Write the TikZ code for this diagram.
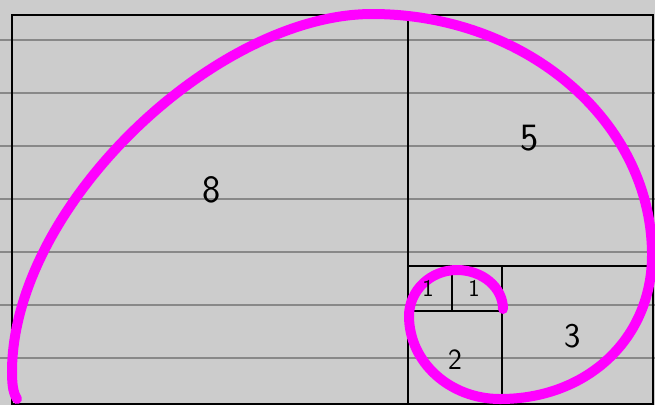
\documentclass[tikz,border=0pt]{standalone}
\usepackage{tikz}
\begin{document}
\begin{tikzpicture}[x=0.75pt,y=0.75pt,yscale=-1,xscale=1,
  ruled/.style={color={rgb, 255:red, 136; green, 136; blue, 136}, line width=1.5pt},
  frame/.style={color=black, line width=2.2pt},
  inner/.style={color=black, line width=1.8pt},
  spiral/.style={color={rgb, 255:red, 255; green, 0; blue, 255}, line width=7.5pt, line cap=round},
  num/.style={inner sep=0.75pt, font=\sffamily}]
            \useasboundingbox (0,0) rectangle (655,405);
            \fill [color={rgb, 255:red, 204; green, 204; blue, 204}] (0,0) rectangle (655,405);
            \foreach \y in {40,93,146,199,252,305,358}
              \draw [ruled] (0,\y) -- (655,\y);
            \draw [frame] (12,15) rectangle (653,404);
            \draw [frame] (408,15) -- (408,404);
            \draw [inner] (408,266) -- (653,266);
            \draw [inner] (502,266) -- (502,404);
            \draw [inner] (408,311) -- (502,311);
            \draw [inner] (452,266) -- (452,311);
            \draw [spiral] (503,309) .. controls (503,287.5) and (482.4,270) .. (457,270) .. controls (430.5,270) and (409,290.6) .. (409,316) .. controls (409,362) and (449.7,399) .. (500,399) .. controls (588,399) and (652,338) .. (652,255) .. controls (652,122) and (526.6,14) .. (372,14) .. controls (215,14) and (12,207) .. (12,372) .. controls (12,388) and (14,394) .. (17,399);
            \node [num, font=\sffamily\fontsize{29}{29}\selectfont] (eight) at (212,190) {8};
            \node [num, font=\sffamily\fontsize{29}{29}\selectfont] (five) at (530,138) {5};
            \node [num, font=\sffamily\fontsize{26}{26}\selectfont] (three) at (573,336) {3};
            \node [num, font=\sffamily\fontsize{22}{22}\selectfont] (two) at (455,360) {2};
            \node [num, font=\sffamily\fontsize{18}{18}\selectfont] (oneA) at (428,288) {1};
            \node [num, font=\sffamily\fontsize{18}{18}\selectfont] (oneB) at (474,288) {1};
\end{tikzpicture}
\end{document}
